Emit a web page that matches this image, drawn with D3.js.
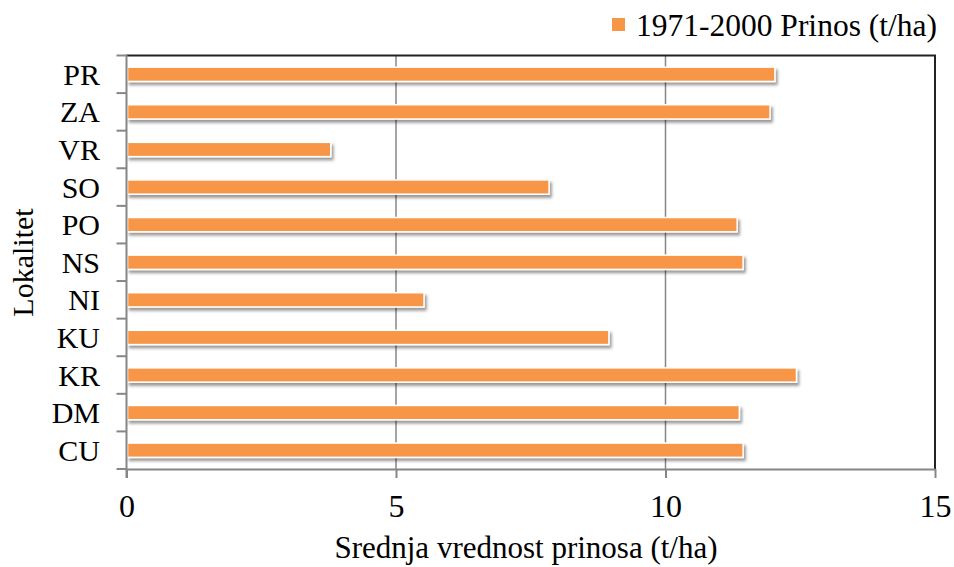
<!DOCTYPE html>
<html>
<head>
<meta charset="utf-8">
<script src="https://cdn.jsdelivr.net/npm/d3@7"></script>
<style>
  body { margin: 0; background: #fff; }
  text { font-family: "Liberation Serif", "Times New Roman", serif; fill: #000; }
</style>
</head>
<body>
<div id="chart"></div>
<script>
// data (top to bottom)
const categories = ["PR", "ZA", "VR", "SO", "PO", "NS", "NI", "KU", "KR", "DM", "CU"];
const yieldValues = [12.03, 11.94, 3.79, 7.84, 11.33, 11.44, 5.52, 8.95, 12.43, 11.37, 11.44];
const xTicks = [0, 5, 10, 15];
const seriesName = "1971-2000 Prinos (t/ha)";

const width = 954, height = 567;
const margin = {top: 55.5, right: 19, bottom: 98, left: 126.5};
const barColor = "#f79646", axisColor = "#868686";

const svg = d3.select("#chart").append("svg")
    .attr("width", width)
    .attr("height", height);

// drop shadow for the bars
const defs = svg.append("defs");
defs.append("filter")
    .attr("id", "shadow")
    .attr("x", "-10%").attr("y", "-50%")
    .attr("width", "120%").attr("height", "250%")
    .append("feDropShadow")
    .attr("dx", 2).attr("dy", 3)
    .attr("stdDeviation", 1.8)
    .attr("flood-color", "#000")
    .attr("flood-opacity", 0.4);

const x = d3.scaleLinear()
    .domain([0, 15])
    .range([margin.left, width - margin.right]);

const y = d3.scaleBand()
    .domain(categories)
    .range([margin.top, height - margin.bottom])
    .paddingInner(0.62)
    .paddingOuter(0.31);

const plotTop = margin.top, plotBottom = height - margin.bottom;
const plotLeft = margin.left, plotRight = width - margin.right;

// vertical gridlines
svg.append("g")
    .selectAll("line")
    .data(xTicks.filter(d => d > 0 && d < 15))
    .enter().append("line")
    .attr("x1", d => x(d)).attr("x2", d => x(d))
    .attr("y1", plotTop).attr("y2", plotBottom)
    .attr("stroke", axisColor)
    .attr("stroke-width", 1.5);

// top and right border
svg.append("path")
    .attr("d", `M${plotLeft},${plotTop}H${plotRight}V${plotBottom}`)
    .attr("fill", "none")
    .attr("stroke", "#222")
    .attr("stroke-width", 2);

// bars
svg.append("g")
    .selectAll("rect")
    .data(categories)
    .enter().append("rect")
    .attr("x", x(0) + 1)
    .attr("y", d => y(d))
    .attr("width", (d, i) => x(yieldValues[i]) - x(0) - 1)
    .attr("height", y.bandwidth())
    .attr("fill", barColor)
    .attr("stroke", "#fff")
    .attr("stroke-width", 1.5)
    .attr("filter", "url(#shadow)");

// x axis
const xAxis = d3.axisBottom(x)
    .tickValues(xTicks)
    .tickSize(9)
    .tickPadding(16)
    .tickSizeOuter(0);

const gx = svg.append("g")
    .attr("transform", `translate(0,${plotBottom})`)
    .call(xAxis);
gx.select(".domain").attr("stroke", axisColor).attr("stroke-width", 2);
gx.selectAll(".tick line").attr("stroke", axisColor).attr("stroke-width", 2);
gx.selectAll(".tick text")
    .attr("font-size", 32)
    .attr("dy", "0.71em");

// y axis: ticks on band boundaries
const boundaries = d3.range(categories.length + 1)
    .map(i => plotTop + i * (plotBottom - plotTop) / categories.length);

svg.append("line")
    .attr("x1", plotLeft).attr("x2", plotLeft)
    .attr("y1", plotTop - 1).attr("y2", plotBottom + 9)
    .attr("stroke", axisColor).attr("stroke-width", 2);

svg.append("g")
    .selectAll("line")
    .data(boundaries)
    .enter().append("line")
    .attr("x1", plotLeft - 10).attr("x2", plotLeft)
    .attr("y1", d => d).attr("y2", d => d)
    .attr("stroke", axisColor).attr("stroke-width", 2);

svg.append("g")
    .selectAll("text")
    .data(categories)
    .enter().append("text")
    .attr("x", 100)
    .attr("y", d => y(d) + y.bandwidth() / 2)
    .attr("dy", "0.35em")
    .attr("text-anchor", "end")
    .attr("font-size", 30)
    .text(d => d);

// axis titles
svg.append("text")
    .attr("x", 526)
    .attr("y", 558)
    .attr("text-anchor", "middle")
    .attr("font-size", 31)
    .text("Srednja vrednost prinosa (t/ha)");

svg.append("text")
    .attr("transform", "translate(33,262.5)rotate(-90)")
    .attr("text-anchor", "middle")
    .attr("font-size", 30)
    .text("Lokalitet");

// legend
svg.append("rect")
    .attr("x", 612).attr("y", 18)
    .attr("width", 13).attr("height", 13)
    .attr("fill", barColor);

svg.append("text")
    .attr("x", 636)
    .attr("y", 36)
    .attr("font-size", 31.5)
    .text(seriesName);
</script>
</body>
</html>
